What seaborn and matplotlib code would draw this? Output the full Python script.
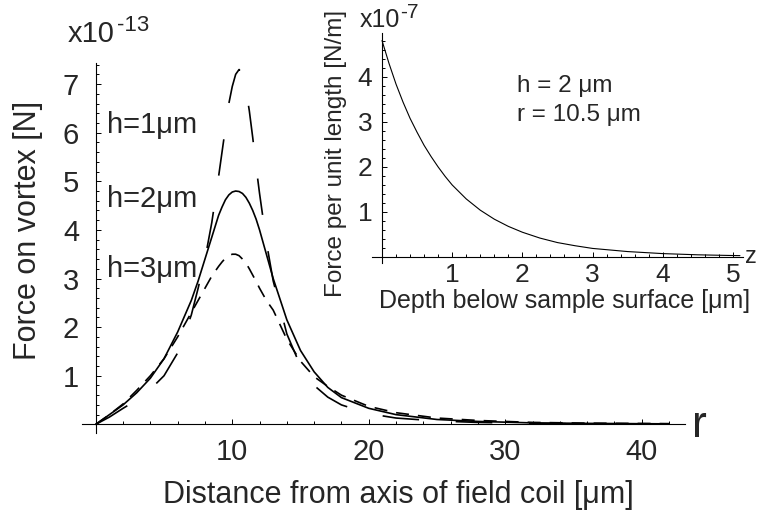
import matplotlib
matplotlib.use("Agg")
import matplotlib.pyplot as plt
import seaborn as sns
from matplotlib.ticker import MultipleLocator, FixedLocator

# force on vortex vs distance r from coil axis (units of 1e-13 N)
r = [0, 1, 2, 3, 4, 5, 6, 7, 7.5, 8, 8.5, 9, 9.25, 9.5, 9.75, 10, 10.25, 10.5, 10.75, 11,
     11.25, 11.5, 11.75, 12, 12.5, 13, 14, 15, 16, 17, 18, 20, 22, 25, 28, 32, 36, 42]
force_h1 = [0, 0.15, 0.33, 0.5, 0.72, 1.0, 1.47, 2.25, 2.8, 3.4, 4.15, 5.1, 5.6, 6.1, 6.6,
            6.95, 7.2, 7.3, 7.2, 6.9, 6.45, 5.9, 5.3, 4.75, 3.75, 2.95, 1.86, 1.2, 0.8, 0.56,
            0.4, 0.22, 0.13, 0.07, 0.04, 0.02, 0.01, 0.005]
force_h2 = [0, 0.2, 0.4, 0.65, 0.95, 1.35, 1.9, 2.55, 2.95, 3.4, 3.85, 4.3, 4.47, 4.62, 4.72,
            4.78, 4.8, 4.79, 4.75, 4.67, 4.55, 4.4, 4.22, 4.0, 3.5, 3.0, 2.15, 1.52, 1.08, 0.76,
            0.55, 0.33, 0.2, 0.1, 0.06, 0.03, 0.02, 0.01]
force_h3 = [0, 0.2, 0.42, 0.7, 1.0, 1.35, 1.8, 2.3, 2.55, 2.8, 3.05, 3.25, 3.34, 3.42, 3.47,
            3.5, 3.5, 3.47, 3.4, 3.32, 3.2, 3.07, 2.94, 2.8, 2.55, 2.35, 1.75, 1.3, 0.98, 0.78,
            0.6, 0.37, 0.24, 0.13, 0.08, 0.04, 0.025, 0.015]
h_labels = ["h=1μm", "h=2μm", "h=3μm"]

# inset: force per unit length vs depth z (units of 1e-7 N/m)
depth = [0, 0.1, 0.2, 0.3, 0.4, 0.5, 0.6, 0.7, 0.8, 0.9, 1.0, 1.2, 1.4, 1.6, 1.8, 2.0,
         2.25, 2.5, 2.75, 3.0, 3.5, 4.0, 4.5, 5.0, 5.1]
force_depth = [4.8, 4.29, 3.83, 3.43, 3.07, 2.76, 2.47, 2.22, 1.99, 1.78, 1.59, 1.28, 1.03,
               0.83, 0.67, 0.54, 0.41, 0.31, 0.24, 0.18, 0.11, 0.065, 0.038, 0.022, 0.02]

sns.set_style("ticks")
plt.rcParams['font.family'] = ['Liberation Sans', 'DejaVu Sans']

W, H = 758, 519
fig = plt.figure(figsize=(W / 100, H / 100), dpi=100)


def px(x, y):
    return x / W, 1 - y / H


def mathematica_axes(ax):
    for s in ['top', 'right']:
        ax.spines[s].set_visible(False)
    for s in ['left', 'bottom']:
        ax.spines[s].set_position(('data', 0))
        ax.spines[s].set_linewidth(0.8)
        ax.spines[s].set_color('black')
    ax.set_facecolor('none')
    ax.tick_params(which='both', direction='in', color='black', width=0.7)
    ax.tick_params(which='major', length=3.5)
    ax.tick_params(which='minor', length=2)


# main plot
ax = fig.add_axes([0.1078, 0.1655, 0.7964, 0.7137])
sns.lineplot(x=r, y=force_h1, ax=ax, color='black', linewidth=1.2, estimator=None,
             linestyle=(0, (22, 22)))
sns.lineplot(x=r, y=force_h2, ax=ax, color='black', linewidth=1.2, estimator=None)
sns.lineplot(x=r, y=force_h3, ax=ax, color='black', linewidth=1.2, estimator=None,
             linestyle=(0, (7.8, 5.4)))
ax.set_xlim(-1.03, 43.2)
ax.set_ylim(-0.18, 7.44)
mathematica_axes(ax)
ax.xaxis.set_major_locator(FixedLocator([10, 20, 30, 40]))
ax.xaxis.set_minor_locator(MultipleLocator(2))
ax.yaxis.set_major_locator(FixedLocator([1, 2, 3, 4, 5, 6, 7]))
ax.yaxis.set_minor_locator(MultipleLocator(0.2))
ax.tick_params(axis='x', which='major', labelsize=21, pad=10)
ax.tick_params(axis='y', which='major', labelsize=21, pad=12)
ax.set_xlabel('')
ax.set_ylabel('')

for lab, yb in zip(h_labels, [133, 207, 277]):
    fig.text(*px(107, yb), lab, fontsize=21, va='baseline', ha='left')

fig.text(*px(68, 42), 'x10', fontsize=21, va='baseline', ha='left')
fig.text(*px(117, 31), '-13', fontsize=16, va='baseline', ha='left')
fig.text(*px(692, 437), 'r', fontsize=32, va='baseline', ha='left')
fig.text(*px(398, 503), 'Distance from axis of field coil [μm]', fontsize=22,
         va='baseline', ha='center')
fig.text(*px(28, 230), 'Force on vortex [N]', fontsize=22, rotation=90,
         va='center', ha='center')

# inset
ax2 = fig.add_axes([0.4910, 0.4936, 0.4898, 0.4422])
sns.lineplot(x=depth, y=force_depth, ax=ax2, color='black', linewidth=0.8, estimator=None)
ax2.set_xlim(-0.14, 5.15)
ax2.set_ylim(-0.14, 4.96)
mathematica_axes(ax2)
ax2.xaxis.set_major_locator(FixedLocator([1, 2, 3, 4, 5]))
ax2.xaxis.set_minor_locator(MultipleLocator(0.2))
ax2.yaxis.set_major_locator(FixedLocator([1, 2, 3, 4]))
ax2.yaxis.set_minor_locator(MultipleLocator(0.2))
ax2.tick_params(axis='x', which='major', labelsize=19, pad=5)
ax2.tick_params(axis='y', which='major', labelsize=19, pad=7)
ax2.set_xlabel('')
ax2.set_ylabel('')

fig.text(*px(360, 27), 'x10', fontsize=18, va='baseline', ha='left')
fig.text(*px(400, 18), '-7', fontsize=15, va='baseline', ha='left')
fig.text(*px(745, 263), 'z', fontsize=17, va='baseline', ha='left')
fig.text(*px(565, 308), 'Depth below sample surface [μm]', fontsize=18,
         va='baseline', ha='center')
fig.text(*px(336, 153), 'Force per unit length [N/m]', fontsize=17.5, rotation=90,
         va='center', ha='center')
fig.text(*px(517, 92), 'h = 2 μm', fontsize=17.5, va='baseline', ha='left')
fig.text(*px(517, 121), 'r = 10.5 μm', fontsize=17.5, va='baseline', ha='left')

fig.savefig('out.png', dpi=100)
